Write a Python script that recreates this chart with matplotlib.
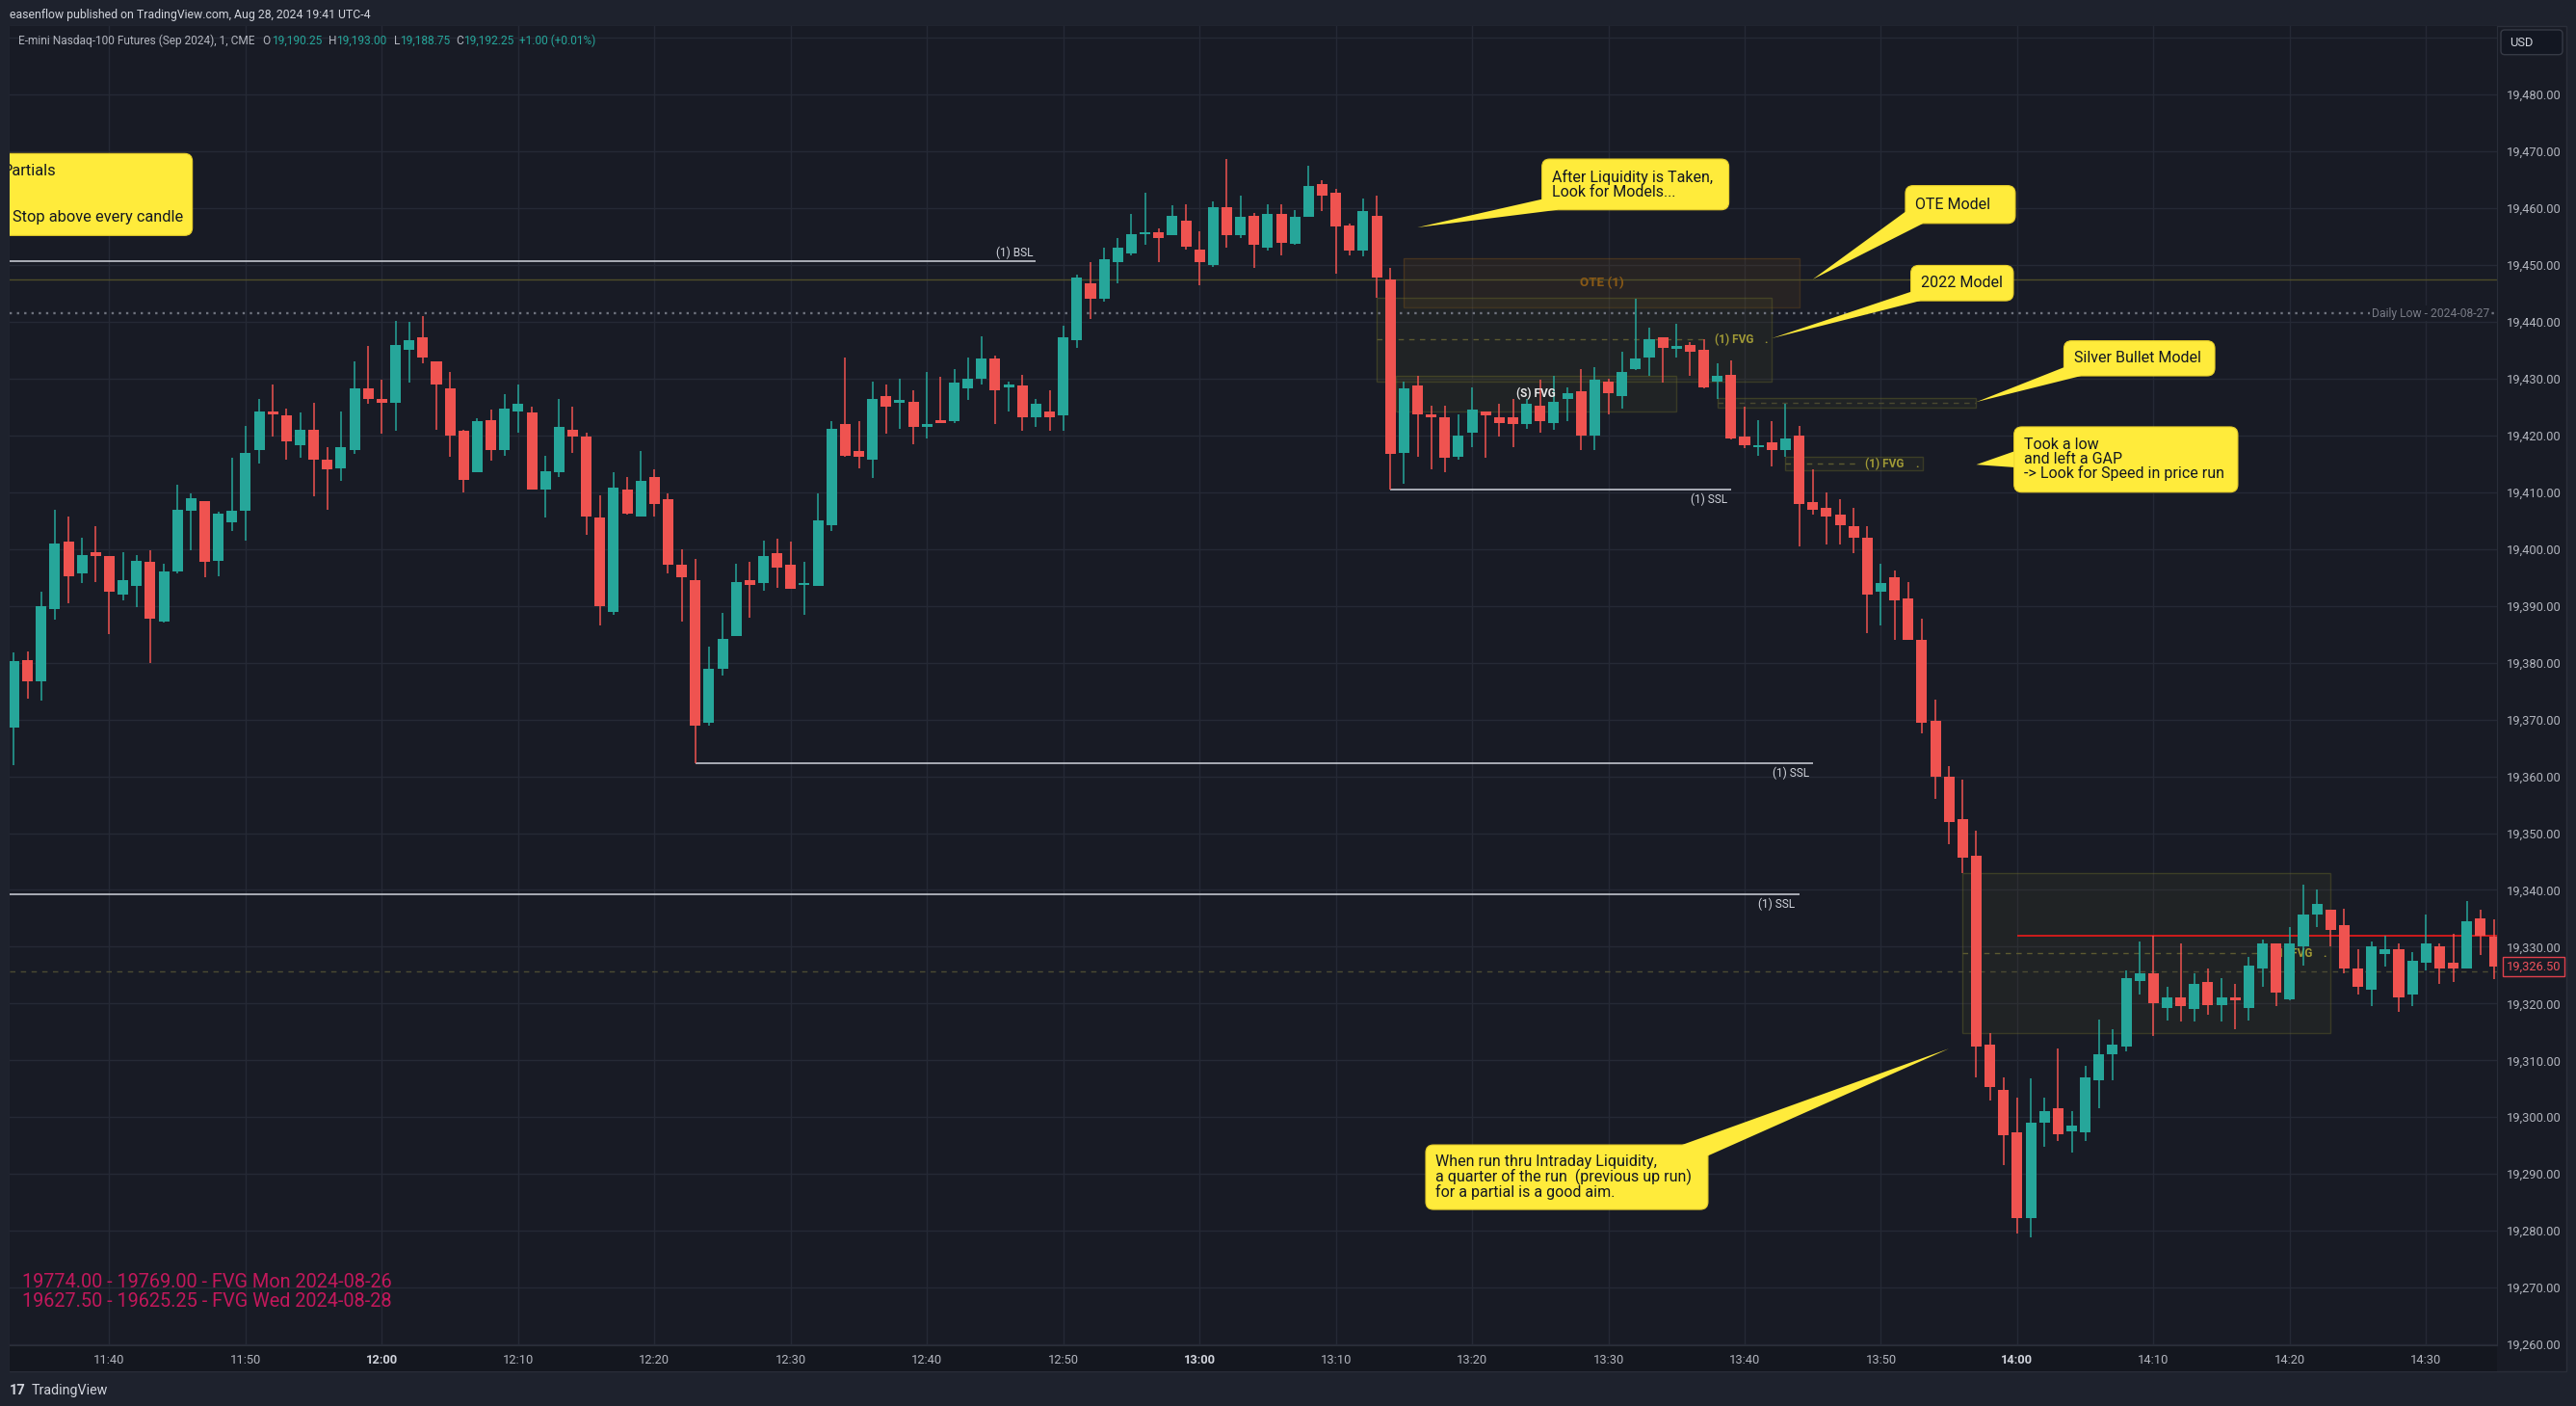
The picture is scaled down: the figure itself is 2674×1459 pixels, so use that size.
import matplotlib
matplotlib.use("Agg")
import matplotlib.pyplot as plt
from matplotlib.patches import Rectangle, FancyBboxPatch, Polygon
from matplotlib.transforms import IdentityTransform

plt.rcParams['font.family'] = ['Roboto', 'DejaVu Sans']

W, H, DPI = 2674, 1459, 100

# ---------------- data (1-minute candles, index 0 = 11:33) ----------------
opens = [
    19368.5, 19380.5, 19376.75, 19389.5, 19401.25, 19395.75, 19399.5, 19398.75, 19392.0, 19393.5,
    19397.75, 19387.25, 19396.0, 19406.75, 19408.5, 19398.0, 19404.75, 19406.75, 19417.5, 19424.25,
    19423.5, 19418.25, 19421.0, 19415.75, 19414.25, 19417.5, 19428.25, 19426.5, 19425.75, 19435.0,
    19437.25, 19433.0, 19428.25, 19420.75, 19413.5, 19422.75, 19417.5, 19424.25, 19424.0, 19410.5,
    19413.5, 19421.0, 19419.75, 19405.5, 19389.0, 19410.5, 19405.75, 19412.75, 19408.75, 19397.25,
    19394.5, 19369.5, 19379.0, 19384.75, 19394.5, 19394.0, 19399.25, 19397.25, 19393.75, 19393.5,
    19404.25, 19422.0, 19417.25, 19415.75, 19427.0, 19425.75, 19426.0, 19421.5, 19422.75, 19422.5,
    19428.25, 19430.0, 19433.5, 19428.5, 19428.75, 19423.25, 19424.25, 19423.5, 19436.75, 19446.75,
    19444.0, 19450.5, 19452.0, 19455.5, 19455.75, 19455.25, 19457.75, 19452.75, 19450.0, 19460.25,
    19455.25, 19458.75, 19453.0, 19459.0, 19453.75, 19458.5, 19464.25, 19462.75, 19457.0, 19452.5,
    19458.75, 19447.5, 19417.0, 19428.75, 19423.75, 19423.25, 19416.25, 19420.5, 19424.25, 19423.25,
    19423.25, 19422.0, 19425.25, 19422.25, 19426.5, 19427.75, 19420.0, 19429.5, 19427.0, 19431.75,
    19433.75, 19437.25, 19435.25, 19436.0, 19435.0, 19429.5, 19430.75, 19419.75, 19418.0, 19418.75,
    19417.5, 19420.0, 19408.25, 19407.25, 19406.0, 19404.0, 19402.0, 19392.5, 19395.0, 19391.25,
    19384.0, 19369.75, 19360.0, 19352.5, 19346.0, 19312.75, 19304.75, 19297.25, 19282.25, 19299.0,
    19301.5, 19297.5, 19297.25, 19306.5, 19311.0, 19312.5, 19324.0, 19325.25, 19319.25, 19321.0,
    19319.0, 19323.75, 19319.75, 19321.0, 19319.25, 19326.25, 19330.5, 19320.75, 19330.0, 19335.75,
    19336.5, 19333.75, 19326.25, 19322.5, 19328.75, 19329.5, 19321.5, 19327.25, 19330.0, 19327.25,
    19326.25, 19335.0, 19331.75]
highs = [
    19381.75, 19382.0, 19392.5, 19407.0, 19405.75, 19402.0, 19404.0, 19398.75, 19399.5, 19399.0,
    19399.75, 19397.5, 19411.25, 19409.75, 19408.5, 19406.5, 19416.0, 19421.75, 19426.5, 19429.0,
    19424.75, 19424.0, 19425.75, 19418.0, 19424.25, 19433.0, 19435.75, 19429.75, 19440.25, 19440.0,
    19441.0, 19433.0, 19431.25, 19421.0, 19423.0, 19424.5, 19427.25, 19429.0, 19425.0, 19416.5,
    19426.5, 19425.0, 19420.5, 19409.5, 19413.5, 19412.75, 19417.25, 19414.0, 19409.75, 19400.0,
    19398.25, 19382.75, 19388.75, 19397.5, 19397.75, 19401.5, 19401.75, 19401.25, 19397.75, 19409.75,
    19422.5, 19433.75, 19422.5, 19429.5, 19429.0, 19430.0, 19428.0, 19431.25, 19430.25, 19431.75,
    19433.75, 19437.5, 19434.0, 19429.5, 19430.75, 19426.5, 19428.0, 19439.25, 19448.25, 19450.5,
    19453.0, 19454.75, 19459.0, 19462.75, 19456.5, 19460.5, 19460.75, 19456.0, 19461.25, 19468.75,
    19462.25, 19459.25, 19460.75, 19460.75, 19459.75, 19467.5, 19465.0, 19463.5, 19457.25, 19461.75,
    19462.25, 19449.5, 19429.5, 19430.5, 19425.25, 19425.25, 19423.75, 19428.5, 19424.25, 19425.5,
    19426.5, 19426.5, 19429.75, 19430.5, 19428.5, 19431.75, 19432.0, 19430.0, 19434.75, 19444.0,
    19439.0, 19437.25, 19439.75, 19436.5, 19437.0, 19432.75, 19433.25, 19425.0, 19422.75, 19422.5,
    19425.5, 19421.75, 19414.0, 19410.0, 19408.75, 19407.25, 19404.0, 19397.5, 19396.25, 19394.25,
    19387.75, 19373.5, 19361.75, 19359.5, 19350.5, 19314.75, 19307.0, 19303.5, 19306.75, 19303.5,
    19312.0, 19301.0, 19309.0, 19317.25, 19315.5, 19325.75, 19331.0, 19332.0, 19323.0, 19330.5,
    19325.25, 19326.25, 19324.5, 19323.5, 19328.25, 19331.25, 19330.5, 19333.5, 19341.0, 19340.0,
    19336.5, 19336.75, 19329.5, 19331.0, 19332.0, 19330.5, 19329.0, 19335.75, 19330.5, 19332.25,
    19338.0, 19336.5, 19334.75]
lows = [
    19362.0, 19373.75, 19373.25, 19387.5, 19390.5, 19394.0, 19394.25, 19385.0, 19391.0, 19389.75,
    19380.0, 19387.0, 19395.75, 19399.75, 19395.0, 19395.25, 19403.25, 19401.5, 19415.0, 19419.75,
    19415.75, 19416.0, 19409.25, 19407.0, 19412.0, 19416.75, 19425.5, 19420.25, 19420.75, 19429.25,
    19432.75, 19421.0, 19416.25, 19410.0, 19413.5, 19415.5, 19416.5, 19420.5, 19410.5, 19405.5,
    19412.75, 19417.0, 19402.5, 19386.5, 19388.5, 19406.0, 19405.75, 19405.75, 19395.75, 19387.25,
    19362.25, 19369.0, 19377.75, 19384.75, 19388.0, 19392.75, 19393.25, 19393.0, 19388.5, 19393.5,
    19403.25, 19416.25, 19414.25, 19412.5, 19420.25, 19421.25, 19418.5, 19419.5, 19422.25, 19422.25,
    19426.25, 19429.0, 19422.0, 19424.25, 19420.75, 19421.5, 19420.75, 19420.75, 19435.5, 19440.5,
    19443.5, 19446.75, 19451.75, 19453.5, 19450.5, 19455.25, 19452.75, 19446.5, 19449.75, 19453.0,
    19454.75, 19449.5, 19452.5, 19451.75, 19453.5, 19458.5, 19459.5, 19448.5, 19451.75, 19451.5,
    19444.25, 19410.5, 19411.5, 19416.25, 19414.0, 19413.5, 19415.75, 19418.0, 19416.0, 19419.75,
    19418.0, 19421.25, 19420.5, 19421.0, 19422.5, 19417.5, 19417.5, 19423.75, 19424.75, 19431.5,
    19430.5, 19429.25, 19433.75, 19430.5, 19428.25, 19426.5, 19419.25, 19417.75, 19416.5, 19414.5,
    19416.25, 19400.5, 19406.0, 19400.75, 19400.75, 19399.25, 19385.25, 19386.5, 19384.0, 19384.0,
    19367.5, 19356.0, 19348.0, 19343.0, 19307.0, 19303.0, 19291.5, 19279.5, 19278.75, 19294.75,
    19295.75, 19293.75, 19295.75, 19301.5, 19306.5, 19311.5, 19321.5, 19314.25, 19317.0, 19316.75,
    19316.75, 19318.0, 19316.75, 19315.5, 19317.0, 19323.0, 19319.5, 19320.5, 19326.75, 19333.5,
    19330.0, 19325.25, 19321.5, 19319.5, 19326.5, 19318.5, 19319.5, 19325.75, 19323.5, 19323.75,
    19326.25, 19328.5, 19324.25]
closes = [
    19380.25, 19376.75, 19390.0, 19401.0, 19395.25, 19399.0, 19398.75, 19392.5, 19394.5, 19398.0,
    19387.75, 19396.0, 19407.0, 19409.0, 19397.75, 19406.25, 19406.75, 19417.0, 19424.25, 19423.75,
    19419.0, 19421.0, 19415.75, 19414.0, 19418.0, 19428.25, 19426.5, 19425.75, 19436.0, 19436.75,
    19433.75, 19429.0, 19420.0, 19412.25, 19422.5, 19417.5, 19424.75, 19425.5, 19410.5, 19413.75,
    19421.5, 19419.75, 19405.75, 19390.0, 19410.75, 19406.25, 19412.0, 19408.0, 19397.25, 19395.0,
    19369.0, 19379.0, 19384.25, 19394.25, 19393.75, 19398.75, 19396.75, 19393.0, 19394.0, 19405.0,
    19421.25, 19416.5, 19416.25, 19426.5, 19425.0, 19426.25, 19421.5, 19422.0, 19422.25, 19429.25,
    19430.0, 19433.5, 19428.0, 19429.0, 19423.25, 19425.5, 19423.25, 19437.25, 19447.75, 19444.0,
    19451.0, 19453.0, 19455.5, 19455.75, 19454.75, 19458.75, 19453.25, 19450.5, 19460.25, 19455.25,
    19458.5, 19453.5, 19459.0, 19454.0, 19458.5, 19464.0, 19462.25, 19456.75, 19452.5, 19459.5,
    19447.75, 19416.75, 19428.25, 19423.75, 19423.25, 19416.0, 19420.0, 19424.5, 19423.5, 19422.25,
    19422.0, 19425.5, 19422.5, 19426.0, 19427.5, 19420.0, 19429.75, 19427.5, 19431.25, 19433.5,
    19437.0, 19435.5, 19435.75, 19434.75, 19428.5, 19430.5, 19419.5, 19418.25, 19418.25, 19417.5,
    19419.5, 19408.0, 19407.0, 19405.75, 19404.25, 19402.0, 19392.0, 19394.0, 19391.0, 19384.0,
    19369.5, 19360.0, 19352.0, 19345.75, 19312.5, 19305.25, 19296.75, 19282.25, 19299.0, 19301.0,
    19297.0, 19298.5, 19307.0, 19311.0, 19312.75, 19324.5, 19325.25, 19320.0, 19321.0, 19319.5,
    19323.5, 19319.75, 19321.0, 19320.5, 19326.75, 19330.5, 19322.0, 19330.5, 19335.75, 19337.5,
    19333.0, 19326.25, 19323.0, 19330.0, 19329.5, 19321.0, 19327.5, 19330.5, 19326.25, 19326.25,
    19334.5, 19332.0, 19326.5]

tick_minutes = list(range(7, 178, 10))
tick_labels = ['11:40', '11:50', '12:00', '12:10', '12:20', '12:30', '12:40', '12:50', '13:00',
               '13:10', '13:20', '13:30', '13:40', '13:50', '14:00', '14:10', '14:20', '14:30']
price_ticks = list(range(19260, 19491, 10))

# liquidity levels  (price, start index, end index)
bsl_line = (19450.75, -1.0, 75.0)
ssl_lines = [(19362.25, 50, 132.0), (19410.5, 101, 126.0), (19339.25, -1.0, 131.0)]
olive_level = 19447.4
daily_low = 19441.5
ce_level = 19325.6
red_level, red_start = 19332.0, 147

# boxes (start, end, low, high)
ote_box = (102.0, 131.0, 19442.5, 19451.2)
fvg_boxes = [(100.0, 129.0, 19429.5, 19444.25),
             (130.0, 140.05, 19413.8, 19416.2),
             (143.0, 170.0, 19314.75, 19343.0)]
sfvg_box = (101.4, 122.0, 19424.2, 19430.5)
sb_box = (125.0, 144.0, 19424.9, 19426.6)

# callouts: text, box (m0, m1, top, bottom), tip, tail base points
callouts = [
    ("After Liquidity is Taken,\nLook for Models...", (112.13, 125.84, 19468.67, 19459.73),
     (102.99, 19456.63), [(112.13, 19461.6), (113.3, 19459.73)]),
    ("OTE Model", (138.80, 146.86, 19463.99, 19457.34),
     (132.0, 19447.5), [(138.80, 19459.4), (140.1, 19457.34)]),
    ("2022 Model", (139.20, 146.72, 19449.94, 19443.72),
     (128.98, 19437.1), [(139.20, 19445.3), (139.9, 19443.72)]),
    ("Silver Bullet Model", (150.43, 161.50, 19436.67, 19430.50),
     (144.0, 19425.9), [(150.43, 19432.0), (151.7, 19430.50)]),
    ("Took a low\nand left a GAP\n-> Look for Speed in price run", (146.77, 163.19, 19421.52, 19410.02),
     (144.0, 19414.87), [(146.77, 19417.2), (146.77, 19414.4)]),
    ("When run thru Intraday Liquidity,\na quarter of the run  (previous up run)\nfor a partial is a good aim.",
     (103.60, 124.31, 19295.11, 19283.74),
     (141.98, 19312.04), [(122.4, 19295.11), (124.31, 19293.2)]),
]
partials_box = (-1.74, 13.09, 19469.64, 19455.22)

fvg_notes = ["19774.00 - 19769.00 - FVG Mon 2024-08-26",
             "19627.50 - 19625.25 - FVG Wed 2024-08-28"]

# ---------------- style ----------------
BG = '#181b25'
OUTER = '#1e222d'
GRID = '#252935'
UP = '#26a69a'
DN = '#ef5350'
TXT = '#b2b5be'
YEL = '#ffeb3b'
OLIVE = '#6b6a2a'
FVG_TXT = '#a19a36'
OTE_C = '#8f5d17'
PX = 0.72  # points per pixel at 100 dpi
CFS = 11.5  # callout font size

fig = plt.figure(figsize=(W / DPI, H / DPI), dpi=DPI, facecolor=OUTER)


def fr(x, y):
    return x / W, 1 - y / H


# pane background
fig.patches.append(Rectangle(fr(10, 1423), 2654 / W, (1423 - 26.7) / H, transform=fig.transFigure,
                             fc=BG, ec='#2a2e39', lw=1, zorder=-2))
fig.patches.append(Rectangle(fr(10, 1423), (2592 - 10) / W, 27 / H, transform=fig.transFigure,
                             fc='#14171f', ec='none', zorder=-1))

ax = fig.add_axes([10 / W, 1 - 1396 / H, (2592 - 10) / W, (1396 - 26.7) / H])
ax.set_zorder(2)
ax.set_facecolor(BG)
ax.set_xlim(-0.3166, 182.21)
ax.set_ylim(19259.83, 19492.14)
for s in ['top', 'left']:
    ax.spines[s].set_visible(False)
for s in ['right', 'bottom']:
    ax.spines[s].set_color('#2a2e39')

ax.set_xticks(tick_minutes)
ax.set_xticklabels(tick_labels)
ax.set_yticks(price_ticks)
ax.set_yticklabels([f"{v:,.2f}" if v < 19490 else '' for v in price_ticks])
ax.yaxis.tick_right()
ax.tick_params(axis='y', length=0, pad=7, labelsize=9.3, labelcolor=TXT)
ax.tick_params(axis='x', length=0, pad=6.5, labelsize=9.3, labelcolor=TXT)
for lbl in ax.get_xticklabels():
    if lbl.get_text().endswith(':00'):
        lbl.set_fontweight('bold')
        lbl.set_color('#d1d4dc')
ax.grid(True, color=GRID, lw=1.0)
ax.set_axisbelow(True)

# ---------------- levels ----------------
xl = ax.get_xlim()
ax.axhline(olive_level, color='#4f4d2a', lw=1.0, zorder=1.6)
ax.axhline(daily_low, color='#6f737e', lw=1.7, ls=(0, (1, 2.2)), zorder=1.6)
ax.axhline(ce_level, color='#4c4b33', lw=1.0, ls=(0, (4, 4)), zorder=1.6)
ax.hlines(red_level, red_start, xl[1], color='#ff1a1a', lw=1.1, zorder=2.2)
ax.annotate('Daily Low - 2024-08-27', xy=(xl[1], daily_low), xytext=(-8 * PX, 0), textcoords='offset points',
            ha='right', va='center', color='#787b86', fontsize=8.7, zorder=2,
            bbox=dict(boxstyle='square,pad=0.15', fc=BG, ec='none'))

ax.hlines(bsl_line[0], bsl_line[1], bsl_line[2], color='#d1d4dc', lw=1.1, zorder=2.5)
ax.annotate('(1) BSL', xy=(bsl_line[2], bsl_line[0]), xytext=(-3 * PX, 2 * PX), textcoords='offset points',
            ha='right', va='bottom', color='#d1d4dc', fontsize=8.6, zorder=2.5)
for lev, s0, s1 in ssl_lines:
    ax.hlines(lev, s0, s1, color='#d1d4dc', lw=1.1, zorder=2.5)
    ax.annotate('(1) SSL', xy=(s1, lev), xytext=(-4 * PX, -3.5 * PX), textcoords='offset points',
                ha='right', va='top', color='#d1d4dc', fontsize=8.6, zorder=2.5)

# ---------------- boxes ----------------
m0, m1, lo, hi = ote_box
ax.add_patch(Rectangle((m0, lo), m1 - m0, hi - lo, fc=OTE_C, alpha=0.13, ec='none', zorder=1.5))
ax.add_patch(Rectangle((m0, lo), m1 - m0, hi - lo, fc='none', ec=OTE_C, alpha=0.3, lw=1, zorder=1.5))
ax.text((m0 + m1) / 2, (lo + hi) / 2, 'OTE (1)', ha='center', va='center', color='#8a5a16',
        fontsize=9.6, fontweight='bold', zorder=1.7)

for (b0, b1, lo, hi) in fvg_boxes + [sfvg_box, sb_box]:
    ax.add_patch(Rectangle((b0, lo), b1 - b0, hi - lo, fc=OLIVE, alpha=0.10, ec='none', zorder=1.5))
    ax.add_patch(Rectangle((b0, lo), b1 - b0, hi - lo, fc='none', ec=OLIVE, alpha=0.4, lw=1, zorder=1.5))

for (b0, b1, lo, hi) in fvg_boxes:
    mid = (lo + hi) / 2
    ax.hlines(mid, b0, b1 - 4.7, color='#5c5a30', lw=1.0, ls=(0, (4, 4)), zorder=1.6)
    ax.annotate('(1) FVG', xy=(b1, mid), xytext=(-19 * PX, 0), textcoords='offset points', ha='right',
                va='center', color=FVG_TXT, fontsize=8.6, fontweight='bold', zorder=2)
    ax.annotate('.', xy=(b1, mid), xytext=(-6 * PX, 0), textcoords='offset points', ha='center',
                va='center', color=FVG_TXT, fontsize=8.6, fontweight='bold', zorder=2)

b0, b1, lo, hi = sb_box
ax.hlines((lo + hi) / 2, b0, b1, color='#4a4930', lw=1.0, ls=(0, (4, 4)), zorder=1.6)

b0, b1, lo, hi = sfvg_box
ax.text((b0 + b1) / 2, (lo + hi) / 2, '(S) FVG', ha='center', va='center', color='#e6e6e6',
        fontsize=8.6, fontweight='bold', zorder=4)

# ---------------- candles ----------------
idx = list(range(len(opens)))
cols = [UP if c >= o else DN for o, c in zip(opens, closes)]
bottoms = [min(o, c) for o, c in zip(opens, closes)]
heights = [max(abs(c - o), 0.3) for o, c in zip(opens, closes)]
ax.vlines(idx, lows, highs, colors=cols, lw=1.1, zorder=3)
ax.bar(idx, heights, bottom=bottoms, width=0.78, color=cols, linewidth=0, zorder=3.1)

# ---------------- callouts ----------------
T = ax.transData
ID = IdentityTransform()


def callout(text, box, tip, base):
    c0, c1, top, bot = box
    x0, y0 = T.transform((c0, bot))
    x1, y1 = T.transform((c1, top))
    ax.add_patch(FancyBboxPatch((x0, y0), x1 - x0, y1 - y0, boxstyle="round,pad=0,rounding_size=8",
                                transform=ID, fc=YEL, ec='#e8cf2a', lw=0.8, zorder=10))
    if tip is not None:
        pts = [T.transform(base[0]), T.transform(tip), T.transform(base[1])]
        ax.add_patch(Polygon(pts, closed=True, transform=ID, fc=YEL, ec='none', zorder=10.1))
    if text:
        ax.text(x0 + 10.5, (y0 + y1) / 2, text, transform=ID, ha='left', va='center', color='#131722',
                fontsize=CFS, linespacing=0.96, zorder=11)


for text, box, tip, base in callouts:
    callout(text, box, tip, base)

callout('', partials_box, None, None)
ax.text(-0.81, 19466.6, 'Partials', ha='left', va='center', color='#131722', fontsize=CFS + 0.3, zorder=11,
        clip_on=True)
ax.text(-0.08, 19458.4, 'Stop above every candle', ha='left', va='center', color='#131722',
        fontsize=CFS + 0.3, zorder=11, clip_on=True)

# bottom-left FVG notes
for i, note in enumerate(fvg_notes):
    fig.text(*fr(23, 1331 + 19.7 * i), note, ha='left', va='center', color='#c2185b', fontsize=14.3,
             zorder=5)

# ---------------- price axis labels ----------------
ax.annotate(f"{closes[-1]:,.2f}", xy=(1, closes[-1]), xycoords=('axes fraction', 'data'),
            xytext=(10 * PX, 0), textcoords='offset points', ha='left', va='center',
            color='#f0525c', fontsize=9.3, annotation_clip=False,
            bbox=dict(boxstyle='square,pad=0.28', fc=BG, ec='#e0404c', lw=1))

fig.patches.append(FancyBboxPatch((2596, H - 56.7), 64, 25.7, boxstyle="round,pad=0,rounding_size=4",
                                  transform=ID, fc='#131722', ec='#363a45', lw=1, zorder=3))
fig.text(*fr(2605, 44), 'USD', ha='left', va='center', color='#d1d4dc', fontsize=9.3, zorder=5)

# ---------------- header ----------------
fig.text(*fr(10, 15.7), 'easenflow published on TradingView.com, Aug 28, 2024 19:41 UTC-4', ha='left',
         va='center', color='#d1d4dc', fontsize=8.8)
legend_parts = [(18.75, 'E-mini Nasdaq-100 Futures (Sep 2024), 1, CME', TXT),
                (272.3, 'O', TXT), (282.0, '19,190.25', UP),
                (340.6, 'H', TXT), (349.5, '19,193.00', UP),
                (408.5, 'L', TXT), (414.7, '19,188.75', UP),
                (473.2, 'C', TXT), (480.8, '19,192.25', UP),
                (539.3, '+1.00 (+0.01%)', UP)]
for x, s, c in legend_parts:
    fig.text(*fr(x, 42.7), s, ha='left', va='center', color=c, fontsize=8.6, zorder=5)

fig.text(*fr(10, 1442.7), '17', ha='left', va='center', color='#d1d4dc', fontsize=10.5, fontweight='bold')
fig.text(*fr(32.6, 1442.7), 'TradingView', ha='left', va='center', color='#d1d4dc', fontsize=10.3)

fig.savefig('out.png', dpi=DPI, facecolor=OUTER)
